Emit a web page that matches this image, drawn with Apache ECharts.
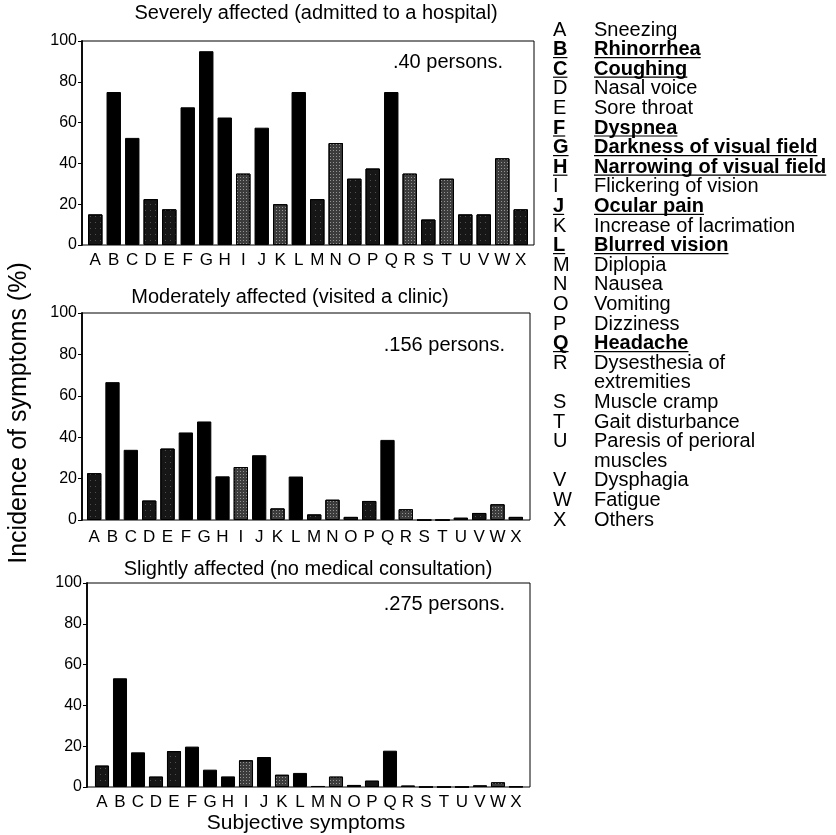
<!DOCTYPE html>
<html><head><meta charset="utf-8">
<script src="https://cdn.jsdelivr.net/npm/echarts@6/dist/echarts.min.js"></script>
<style>html,body{margin:0;padding:0;background:#fff}#c{width:836px;height:835px}</style>
</head><body><div id="c"></div>
<script>
const categories = ['A','B','C','D','E','F','G','H','I','J','K','L','M','N','O','P','Q','R','S','T','U','V','W','X'];
const symptomNames = ['Sneezing','Rhinorrhea','Coughing','Nasal voice','Sore throat','Dyspnea','Darkness of visual field','Narrowing of visual field','Flickering of vision','Ocular pain','Increase of lacrimation','Blurred vision','Diplopia','Nausea','Vomiting','Dizziness','Headache','Dysesthesia of\nextremities','Muscle cramp','Gait disturbance','Paresis of perioral\nmuscles','Dysphagia','Fatigue','Others'];
// 'k' = solid black (underlined symptoms), 'd' = dark speckled, 'g' = gray speckled
const barShade = ['d','k','k','d','d','k','k','k','g','k','g','k','d','g','d','d','k','g','d','g','d','d','g','d'];
const panelTitles = ['Severely affected (admitted to a hospital)','Moderately affected (visited a clinic)','Slightly affected (no medical consultation)'];
const panelCounts = ['.40 persons.','.156 persons.','.275 persons.'];
const severe   = [15,75,52.5,22.5,17.5,67.5,95,62.5,35,57.5,20,75,22.5,50,32.5,37.5,75,35,12.5,32.5,15,15,42.5,17.5];
const moderate = [22.6,66.6,33.9,9.4,34.5,42.3,47.6,21.1,25.6,31.3,5.6,21,2.7,9.8,1.5,9.2,38.7,5.2,0,0,1.1,3.4,7.6,1.5];
const slight   = [10.5,53.3,17,5.1,17.6,19.8,8.5,5.2,13.1,14.7,6,6.9,0.5,5.1,1,3.1,17.8,0.7,0,0,0,0.8,2.3,0.2];
const yTitle = 'Incidence of symptoms (%)';
const xTitle = 'Subjective symptoms';

const FONT = '"Liberation Sans", Arial, Helvetica, sans-serif';
const chart = echarts.init(document.getElementById('c'), null, {renderer:'canvas'});

const layout = [
  {frame:{left:82, top:41, width:452, height:204}, bars:{left:86, width:444}, titleX:316, titleY:13, countX:503, countY:62},
  {frame:{left:82, top:313, width:448, height:207}, bars:{left:85, width:440}, titleX:290, titleY:297, countX:505, countY:345},
  {frame:{left:87, top:583, width:443, height:204}, bars:{left:93, width:432}, titleX:308, titleY:569, countX:505, countY:604}
];
const series = [severe, moderate, slight];
const shadeColor = {k:'#000000', d:'#161616', g:'#3c3c3c'};
const shadeDecal = {
  g:{symbol:'rect', symbolSize:1, color:'rgba(255,255,255,0.45)', dashArrayX:[1,2], dashArrayY:[1,2], rotation:0},
  d:{symbol:'rect', symbolSize:1, color:'rgba(255,255,255,0.25)', dashArrayX:[1,4], dashArrayY:[1,5], rotation:0}
};

const grids=[], xAxes=[], yAxes=[], seriesOpt=[], graphics=[];
layout.forEach((L,i)=>{
  grids.push({left:L.frame.left, top:L.frame.top, width:L.frame.width, height:L.frame.height, show:true, borderColor:'#000', borderWidth:1, backgroundColor:'transparent'});
  grids.push({left:L.bars.left, top:L.frame.top, width:L.bars.width, height:L.frame.height});
  xAxes.push({gridIndex:2*i, type:'value', show:false, min:0, max:1});
  xAxes.push({gridIndex:2*i+1, type:'category', data:categories, axisLine:{show:false}, axisTick:{show:false},
    axisLabel:{color:'#000', fontFamily:FONT, fontSize:17, margin:i===1?9:7, interval:0}});
  yAxes.push({gridIndex:2*i, type:'value', min:0, max:100, interval:20,
    axisLine:{show:true, lineStyle:{color:'#000', width:1.8}},
    axisTick:{show:true, length:4, lineStyle:{color:'#000'}},
    axisLabel:{color:'#000', fontFamily:FONT, fontSize:16, margin:5},
    splitLine:{show:false}});
  yAxes.push({gridIndex:2*i+1, type:'value', min:0, max:100, show:false, splitLine:{show:false}});
  seriesOpt.push({type:'bar', xAxisIndex:2*i+1, yAxisIndex:2*i+1, barWidth:'78%', silent:true,
    data: series[i].map((v,k)=>{
      const s = barShade[k];
      const st = {color:shadeColor[s], borderColor:'#000', borderWidth:1};
      if (shadeDecal[s]) st.decal = shadeDecal[s];
      return {value:v, itemStyle:st};
    })});
  graphics.push({type:'text', position:[L.titleX, L.titleY], style:{text:panelTitles[i], font:'20px '+FONT, fill:'#000', textAlign:'center', textVerticalAlign:'middle'}});
  graphics.push({type:'text', position:[L.countX, L.countY], style:{text:panelCounts[i], font:'20px '+FONT, fill:'#000', textAlign:'right', textVerticalAlign:'middle'}});
});

graphics.push({type:'text', rotation:Math.PI/2, position:[19,413], style:{text:yTitle, font:'25px '+FONT, fill:'#000', textAlign:'center', textVerticalAlign:'middle'}});
graphics.push({type:'text', position:[306,823], style:{text:xTitle, font:'21px '+FONT, fill:'#000', textAlign:'center', textVerticalAlign:'middle'}});

// legend key
const cv = document.createElement('canvas').getContext('2d');
let row = 0;
const rowStep = 19.6, rowStart = 30, letterX = 553, nameX = 594, LF = 20;
categories.forEach((c,k)=>{
  const y = rowStart + row*rowStep;
  const bold = barShade[k]==='k';
  const f = (bold?'bold ':'') + LF + 'px ' + FONT;
  graphics.push({type:'text', position:[letterX,y - rowStep/2], style:{text:c, font:f, fill:'#000', textVerticalAlign:'top', lineHeight:rowStep}});
  graphics.push({type:'text', position:[nameX,y - rowStep/2], style:{text:symptomNames[k], font:f, fill:'#000', textVerticalAlign:'top', lineHeight:rowStep}});
  if(bold){
    cv.font = 'bold ' + LF + 'px "Liberation Sans"';
    const wl = cv.measureText(c).width, wn = cv.measureText(symptomNames[k]).width;
    graphics.push({type:'line', shape:{x1:letterX, y1:y+8, x2:letterX+wl, y2:y+8}, style:{stroke:'#000', lineWidth:1.2}});
    graphics.push({type:'line', shape:{x1:nameX, y1:y+8, x2:nameX+wn, y2:y+8}, style:{stroke:'#000', lineWidth:1.2}});
  }
  row += symptomNames[k].split('\n').length;
});

chart.setOption({
  animation:false,
  backgroundColor:'#fff',
  grid:grids, xAxis:xAxes, yAxis:yAxes, series:seriesOpt, graphic:graphics
});
</script></body></html>
